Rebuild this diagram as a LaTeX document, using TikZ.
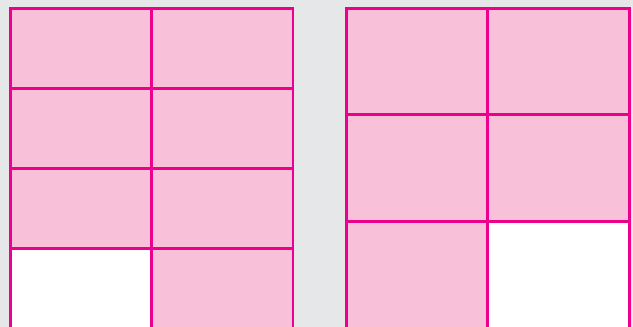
\documentclass[tikz,border=0pt]{standalone}
\definecolor{bg}{HTML}{E6E7E8}
\definecolor{cellpink}{HTML}{F8C0D9}
\definecolor{gridline}{HTML}{EC008C}
\tikzset{
  cell/.style={fill=cellpink, draw=gridline, line width=2.5pt},
  blank/.style={fill=white, draw=gridline, line width=2.5pt}
}
\begin{document}
\begin{tikzpicture}[x=1pt,y=-1pt]
\fill[bg] (0,0) rectangle (633,327);
\useasboundingbox (0,0) rectangle (633,327);
% left grid
\begin{scope}
\clip (0,0) rectangle (633,327);
\path[cell] (10.5,8.3) rectangle (151.5,88.5);
\path[cell] (151.5,8.3) rectangle (292.8,88.5);
\path[cell] (10.5,88.5) rectangle (151.5,168.5);
\path[cell] (151.5,88.5) rectangle (292.8,168.5);
\path[cell] (10.5,168.5) rectangle (151.5,248.5);
\path[cell] (151.5,168.5) rectangle (292.8,248.5);
\path[blank] (10.5,248.5) rectangle (151.5,340);
\path[cell] (151.5,248.5) rectangle (292.8,340);
% right grid
\path[cell] (346.5,8.3) rectangle (487.5,114.5);
\path[cell] (487.5,8.3) rectangle (629.5,114.5);
\path[cell] (346.5,114.5) rectangle (487.5,221.5);
\path[cell] (487.5,114.5) rectangle (629.5,221.5);
\path[cell] (346.5,221.5) rectangle (487.5,340);
\path[blank] (487.5,221.5) rectangle (629.5,340);
\end{scope}
\end{tikzpicture}
\end{document}
